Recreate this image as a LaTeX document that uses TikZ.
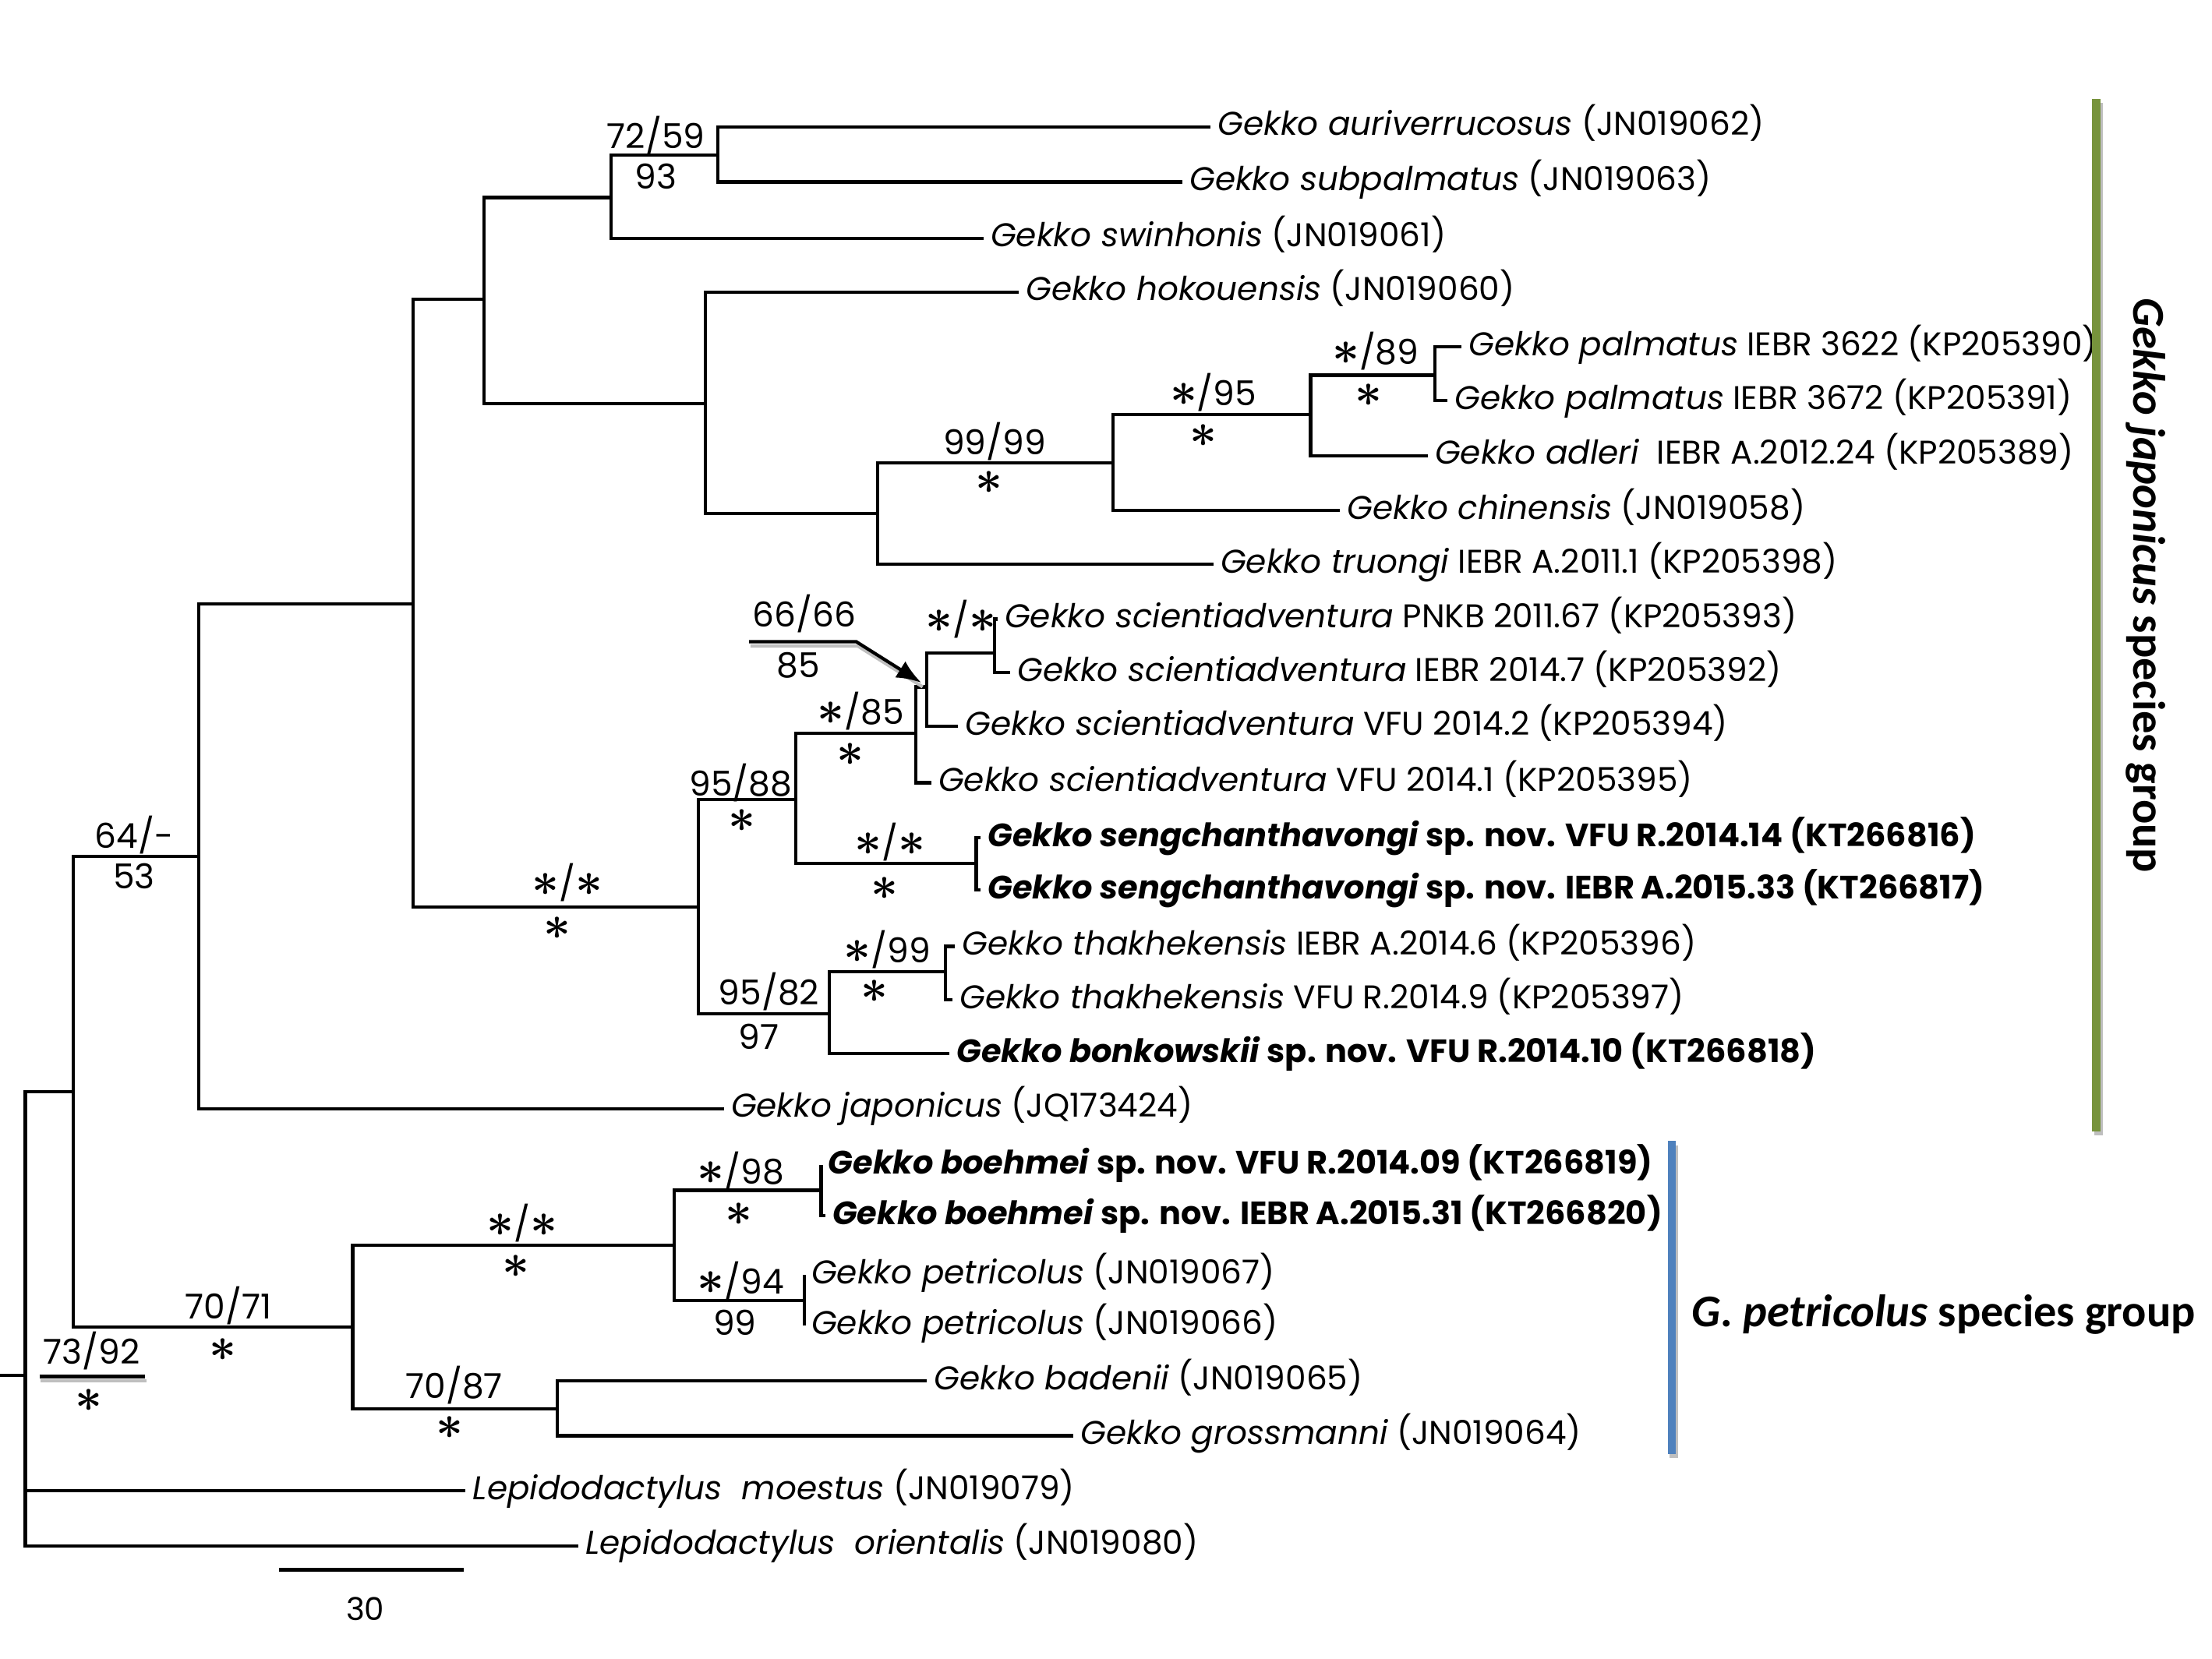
\documentclass[tikz,border=0pt]{standalone}
\usepackage{bm}
\usepackage{fontspec}
\setmainfont{Poppins}
\newfontfamily\grpfont{Carlito}
\usetikzlibrary{arrows.meta}
\definecolor{grpgreen}{RGB}{119,147,60}
\definecolor{grpblue}{RGB}{79,129,189}
\tikzstyle{branch}=[line width=1.2pt]
\tikzstyle{taxon}=[anchor=west, inner xsep=2.5pt, inner ysep=0pt, text height=1.6ex, text depth=0.45ex, font=\fontsize{12}{14}\selectfont]
\tikzstyle{btaxon}=[taxon, font=\fontsize{11.8}{14}\selectfont\bfseries]
\tikzstyle{supsty}=[inner sep=0pt, font=\fontsize{12.5}{14}\selectfont]
\tikzstyle{shadowsty}=[line width=1.2pt, black!25]
\tikzstyle{grpbar}=[line width=3pt]
\tikzstyle{grpsty}=[font=\grpfont\fontsize{16.6}{18}\selectfont\bfseries]
\tikzstyle{pointer}=[branch,-{Latex[length=9pt,width=7pt]}]
\newcommand{\taxname}[1]{\textit{#1}}
\newcommand{\sstar}{{\fontsize{16}{16}\selectfont$\bm{\ast}$}}

\begin{document}
\begin{tikzpicture}[x=0.0181cm, y=-0.0181cm]
\useasboundingbox (0,0) rectangle (1568,1176);
% internal nodes
\coordinate (rs) at (0,975);
\coordinate (root) at (18,975);
\coordinate (n52) at (52,774);
\coordinate (n141) at (141,607);
\coordinate (n293) at (293,428);
\coordinate (n343) at (343,212);
\coordinate (n433) at (433,140);
\coordinate (n508) at (509,110);
\coordinate (n500) at (500,286);
\coordinate (n622) at (622,364);
\coordinate (n789) at (789,328);
\coordinate (n929) at (929,294);
\coordinate (n1017) at (1017,266);
\coordinate (n495) at (495,643);
\coordinate (n564) at (564,567);
\coordinate (n649) at (649,520);
\coordinate (n657) at (657,487);
\coordinate (n705) at (705,463);
\coordinate (n692) at (692,612);
\coordinate (n588) at (588,719);
\coordinate (n670) at (670,689);
\coordinate (n250) at (250,941);
\coordinate (n478) at (478,883);
\coordinate (n582) at (582,844);
\coordinate (n570) at (570,922);
\coordinate (n395) at (395,999);

% taxa
\node[taxon] (aur) at (858,90) {\taxname{Gekko auriverrucosus} (JN019062)};
\node[taxon] (sub) at (838,129) {\taxname{Gekko subpalmatus} (JN019063)};
\node[taxon] (swi) at (697,169) {\taxname{Gekko swinhonis} (JN019061)};
\node[taxon] (hok) at (722,207) {\taxname{Gekko hokouensis} (JN019060)};
\node[taxon] (pal1) at (1036,246) {\taxname{Gekko palmatus} IEBR 3622 (KP205390)};
\node[taxon] (pal2) at (1026,284) {\taxname{Gekko palmatus} IEBR 3672 (KP205391)};
\node[taxon] (adl) at (1012,323) {\taxname{Gekko adleri}\ \ IEBR A.2012.24 (KP205389)};
\node[taxon] (chi) at (950,362) {\taxname{Gekko chinensis} (JN019058)};
\node[taxon] (tru) at (860,400) {\taxname{Gekko truongi} IEBR A.2011.1 (KP205398)};
\node[taxon] (sci1) at (707,439) {\taxname{Gekko scientiadventura} PNKB 2011.67 (KP205393)};
\node[taxon] (sci2) at (716,477) {\taxname{Gekko scientiadventura} IEBR 2014.7 (KP205392)};
\node[taxon] (sci3) at (679,515) {\taxname{Gekko scientiadventura} VFU 2014.2 (KP205394)};
\node[taxon] (sci4) at (660,555) {\taxname{Gekko scientiadventura} VFU 2014.1 (KP205395)};
\node[btaxon] (sen1) at (695,594) {\taxname{Gekko sengchanthavongi} sp. nov. VFU R.2014.14 (KT266816)};
\node[btaxon] (sen2) at (695,631) {\taxname{Gekko sengchanthavongi} sp. nov. IEBR A.2015.33 (KT266817)};
\node[taxon] (tha1) at (677,671) {\taxname{Gekko thakhekensis} IEBR A.2014.6 (KP205396)};
\node[taxon] (tha2) at (675,709) {\taxname{Gekko thakhekensis} VFU R.2014.9 (KP205397)};
\node[btaxon] (bon) at (673,747) {\taxname{Gekko bonkowskii} sp. nov. VFU R.2014.10 (KT266818)};
\node[taxon] (jap) at (513,786) {\taxname{Gekko japonicus} (JQ173424)};
\node[btaxon] (boe1) at (582,826) {\taxname{Gekko boehmei} sp. nov. VFU R.2014.09 (KT266819)};
\node[btaxon] (boe2) at (585,862) {\taxname{Gekko boehmei} sp. nov. IEBR A.2015.31 (KT266820)};
\node[taxon] (pet1) at (570,904) {\taxname{Gekko petricolus} (JN019067)};
\node[taxon] (pet2) at (570,940) {\taxname{Gekko petricolus} (JN019066)};
\node[taxon] (bad) at (657,979) {\taxname{Gekko badenii} (JN019065)};
\node[taxon] (gro) at (761,1018) {\taxname{Gekko grossmanni} (JN019064)};
\node[taxon] (moe) at (330,1057) {\taxname{Lepidodactylus\ \ moestus} (JN019079)};
\node[taxon] (ori) at (410,1096) {\taxname{Lepidodactylus\ \ orientalis} (JN019080)};

% branches
\draw[branch] (rs) -- (root);
\draw[branch] (root) |- (n52);
\draw[branch] (root) |- (moe.west);
\draw[branch] (root) |- (ori.west);
\draw[branch] (n52) |- (n141);
\draw[branch] (n52) |- (n250);
\draw[branch] (n141) |- (n293);
\draw[branch] (n141) |- (jap.west);
\draw[branch] (n293) |- (n343);
\draw[branch] (n293) |- (n495);
\draw[branch] (n343) |- (n433);
\draw[branch] (n343) |- (n500);
\draw[branch] (n433) |- (n508);
\draw[branch] (n433) |- (swi.west);
\draw[branch] (n508) |- (aur.west);
\draw[branch] (n508) |- (sub.west);
\draw[branch] (n500) |- (hok.west);
\draw[branch] (n500) |- (n622);
\draw[branch] (n622) |- (n789);
\draw[branch] (n622) |- (tru.west);
\draw[branch] (n789) |- (n929);
\draw[branch] (n789) |- (chi.west);
\draw[branch] (n929) |- (n1017);
\draw[branch] (n929) |- (adl.west);
\draw[branch] (n1017) |- (pal1.west);
\draw[branch] (n1017) |- (pal2.west);
\draw[branch] (n495) |- (n564);
\draw[branch] (n495) |- (n588);
\draw[branch] (n564) |- (n649);
\draw[branch] (n564) |- (n692);
\draw[branch] (n649) |- (n657);
\draw[branch] (n649) |- (sci4.west);
\draw[branch] (n657) |- (n705);
\draw[branch] (n657) |- (sci3.west);
\draw[branch] (n705) |- (sci1.west);
\draw[branch] (n705) |- (sci2.west);
\draw[branch] (n692) |- (sen1.west);
\draw[branch] (n692) |- (sen2.west);
\draw[branch] (n588) |- (n670);
\draw[branch] (n588) |- (bon.west);
\draw[branch] (n670) |- (tha1.west);
\draw[branch] (n670) |- (tha2.west);
\draw[branch] (n250) |- (n478);
\draw[branch] (n250) |- (n395);
\draw[branch] (n478) |- (n582);
\draw[branch] (n478) |- (n570);
\draw[branch] (n582) |- (boe1.west);
\draw[branch] (n582) |- (boe2.west);
\draw[branch] (n570) |- (pet1.west);
\draw[branch] (n570) |- (pet2.west);
\draw[branch] (n395) |- (bad.west);
\draw[branch] (n395) |- (gro.west);

% support values
\node[supsty] (s1a) at (465,96) {72/59};
\node[supsty] (s1b) at (465,125) {93};
\node[supsty] (s2a) at (705,313) {99/99};
\node[supsty] (s2b) at (701,342) {\sstar};
\node[supsty] (s3a) at (860,278) {\sstar/95};
\node[supsty] (s3b) at (853,309) {\sstar};
\node[supsty] (s4a) at (975,249) {\sstar/89};
\node[supsty] (s4b) at (970,280) {\sstar};
\node[supsty] (s5a) at (570,435) {66/66};
\node[supsty] (s5b) at (566,472) {85};
\node[supsty] (s6a) at (681,439) {\sstar/\sstar};
\node[supsty] (s7a) at (610,504) {\sstar/85};
\node[supsty] (s7b) at (603,535) {\sstar};
\node[supsty] (s8a) at (525,555) {95/88};
\node[supsty] (s8b) at (526,582) {\sstar};
\node[supsty] (s9a) at (631,597) {\sstar/\sstar};
\node[supsty] (s9b) at (627,630) {\sstar};
\node[supsty] (s10a) at (402,626) {\sstar/\sstar};
\node[supsty] (s10b) at (395,658) {\sstar};
\node[supsty] (s11a) at (629,673) {\sstar/99};
\node[supsty] (s11b) at (620,703) {\sstar};
\node[supsty] (s12a) at (545,703) {95/82};
\node[supsty] (s12b) at (538,735) {97};
\node[supsty] (s13a) at (95,592) {64/-};
\node[supsty] (s13b) at (95,621) {53};
\node[supsty] (s14a) at (525,830) {\sstar/98};
\node[supsty] (s14b) at (524,861) {\sstar};
\node[supsty] (s15a) at (370,867) {\sstar/\sstar};
\node[supsty] (s15b) at (366,898) {\sstar};
\node[supsty] (s16a) at (525,908) {\sstar/94};
\node[supsty] (s16b) at (521,938) {99};
\node[supsty] (s17a) at (162,926) {70/71};
\node[supsty] (s17b) at (158,957) {\sstar};
\node[supsty] (s18a) at (322,982) {70/87};
\node[supsty] (s18b) at (319,1012) {\sstar};
\node[supsty] (s19a) at (65,958) {73/92};
\node[supsty] (s19b) at (63,993) {\sstar};

% pointer and underline
\coordinate (p1) at (531,455);
\coordinate (p2) at (607,455);
\coordinate (p3) at (653,484);
\draw[shadowsty] ([shift={(1,3)}]p1) -- ([shift={(1,3)}]p2) -- ([shift={(1,3)}]p3);
\draw[pointer] (p1) -- (p2) -- (p3);
\coordinate (u1) at (28,976);
\coordinate (u2) at (103,976);
\draw[shadowsty] ([shift={(1,3)}]u1) -- ([shift={(1,3)}]u2);
\draw[branch] (u1) -- (u2);

% scale bar
\coordinate (sb1) at (198,1113);
\coordinate (sb2) at (329,1113);
\draw[branch] (sb1) -- (sb2);
\node[supsty, font=\fontsize{11.5}{13}\selectfont] (sbl) at (259,1141) {30};

% species groups
\coordinate (g1) at (1486,70);
\coordinate (g2) at (1486,802);
\coordinate (b1) at (1185,809);
\coordinate (b2) at (1185,1031);
\draw[grpbar, black!25] ([shift={(1.5,3)}]g1) -- ([shift={(1.5,3)}]g2);
\draw[grpbar, grpgreen] (g1) -- (g2);
\draw[grpbar, black!25] ([shift={(1.5,3)}]b1) -- ([shift={(1.5,3)}]b2);
\draw[grpbar, grpblue] (b1) -- (b2);
\node[grpsty, rotate=-90] (jgrp) at (1521,415) {\textit{Gekko japonicus} species group};
\node[grpsty, anchor=west, inner sep=0pt] (pgrp) at (1199,932) {\textit{G. petricolus} species group};
\end{tikzpicture}
\end{document}
